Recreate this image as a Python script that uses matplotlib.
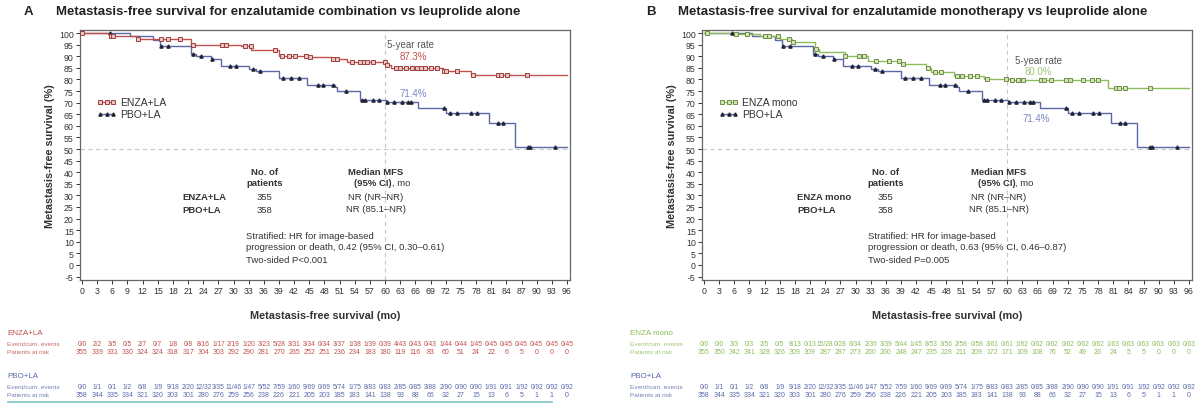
import numpy as np
import matplotlib
matplotlib.use("Agg")
import matplotlib.pyplot as plt
import matplotlib.transforms as mtransforms
from matplotlib.lines import Line2D

plt.rcParams['font.family'] = ['Liberation Sans', 'DejaVu Sans']
plt.rcParams['axes.unicode_minus'] = False

# =========================
# DATA
# =========================
months = list(range(0, 97, 3))

# Kaplan-Meier steps (month, survival %)
enza_la_t = [0, 5.5, 11, 21.5, 31.5, 33.5, 39, 44.5, 49.5, 52.5, 60.2, 61.2, 71.5, 77, 96]
enza_la_s = [100, 98.6, 97.5, 94.8, 94.2, 92.8, 90, 89.5, 88.8, 87.3, 86.2, 84.8, 83.8, 81.8, 81.8]
enza_la_cens = [0, 5.7, 6.1, 11, 15.6, 17.1, 19.4, 22, 27.7, 28.5, 32.3, 33.4, 38.3, 39.5, 41, 42.1,
                44.4, 45.2, 49.7, 50.5, 53.5, 55, 55.8, 56.5, 57.7, 60, 60.4, 62.2, 63, 64.1, 65.3,
                66.4, 67.1, 67.9, 69, 70.2, 71.7, 72, 74.3, 77.3, 82.3, 83, 84.2, 88]

pbo_la_t = [0, 9.5, 14, 15.5, 21.5, 22.5, 25.5, 27.5, 33, 34.5, 39, 44.5, 50, 50.5, 55, 60.2,
            66.5, 72, 80.5, 85.8, 96]
pbo_la_s = [100, 98.8, 97, 94.5, 91, 90, 88.8, 86, 84.6, 83.5, 80.8, 77.5, 76.6, 75.2, 71.3, 70.2,
            67.5, 65.6, 61, 50.8, 50.8]
pbo_la_cens = [5.6, 15.6, 17, 22, 23.5, 25.8, 29.2, 30.4, 33.8, 35.3, 39.8, 41.4, 42.9, 46.7, 47.8,
               49.7, 52.3, 55.4, 56.1, 57.7, 58.8, 60.3, 61.8, 63.3, 64.5, 65.2, 71.7, 72.8, 74.3,
               77, 78.1, 82.3, 83.4, 88.3, 88.7, 93.6]

enza_mono_t = [0, 6, 11, 15, 17.5, 22, 22.8, 28, 32.5, 39, 44, 45, 49.5, 55.5, 60.5, 80, 96]
enza_mono_s = [100, 99.5, 98.6, 97.5, 96, 93, 91.7, 90, 88, 86.5, 84.8, 83, 81.6, 80.2, 79.7, 76.3, 76.3]
enza_mono_cens = [0.6, 6.3, 8.6, 12, 12.8, 14.7, 16.9, 17.7, 22.2, 28, 30.6, 31.7, 34, 36.7, 38.6,
                  39.3, 44.3, 45.8, 46.9, 50, 51.1, 52.6, 54.1, 56, 59.8, 61, 62.1, 63.2, 66.7,
                  67.4, 68.6, 71.6, 72.4, 75, 76.9, 78, 81.5, 82.2, 83.4, 88.3]

# risk tables
enza_la_events = ["0/0", "2/2", "3/5", "0/5", "2/7", "0/7", "1/8", "0/8", "8/16", "1/17", "2/19",
                  "1/20", "3/23", "5/28", "3/31", "3/34", "0/34", "3/37", "1/38", "1/39", "0/39",
                  "4/43", "0/43", "0/43", "1/44", "0/44", "1/45", "0/45", "0/45", "0/45", "0/45",
                  "0/45", "0/45"]
enza_la_risk = [355, 339, 331, 330, 324, 324, 318, 317, 304, 303, 292, 290, 281, 270, 265, 252, 251,
                236, 234, 183, 180, 119, 116, 83, 60, 51, 24, 22, 6, 5, 0, 0, 0]

pbo_la_events = ["0/0", "1/1", "0/1", "1/2", "6/8", "1/9", "9/18", "2/20", "12/32", "3/35", "11/46",
                 "1/47", "5/52", "7/59", "1/60", "9/69", "0/69", "5/74", "1/75", "8/83", "0/83",
                 "2/85", "0/85", "3/88", "2/90", "0/90", "0/90", "1/91", "0/91", "1/92", "0/92",
                 "0/92", "0/92"]
pbo_la_risk = [358, 344, 335, 334, 321, 320, 303, 301, 280, 276, 259, 256, 238, 226, 221, 205, 203,
               185, 183, 141, 138, 93, 88, 66, 32, 27, 15, 13, 6, 5, 1, 1, 0]

enza_mono_events = ["0/0", "0/0", "3/3", "0/3", "2/5", "0/5", "8/13", "0/13", "15/28", "0/28",
                    "6/34", "2/36", "3/39", "5/44", "1/45", "8/53", "3/56", "2/58", "0/58", "3/61",
                    "0/61", "1/62", "0/62", "0/62", "0/62", "0/62", "0/62", "1/63", "0/63", "0/63",
                    "0/63", "0/63", "0/63"]
enza_mono_risk = [355, 350, 342, 341, 328, 326, 309, 309, 287, 287, 273, 260, 260, 248, 247, 235,
                  228, 211, 209, 172, 171, 109, 108, 76, 52, 49, 26, 24, 5, 5, 0, 0, 0]

# colours
RED = "#c0504d"
BLUE = "#5b6aa6"
GREEN = "#8cbd5a"
GREY = "#555555"
TXT = "#333333"
FS = 6.8


def km_at(t_steps, s_steps, t):
    idx = np.searchsorted(t_steps, t, side="right") - 1
    return np.asarray(s_steps)[idx]


def draw_panel(fig, rect, letter, title, arm_name, arm_t, arm_s, arm_cens, arm_col, arm_face,
               arm_edge, rate_txt, rate_xy, rate_col, pbo_xy, five_xy, table_x, hr_txt, p_txt,
               arm_events, arm_risk, label_x):
    ax = fig.add_axes(rect)

    # reference lines
    ax.axhline(50, color="#c8c8c8", lw=0.8, ls=(0, (4, 3)), zorder=1)
    ax.axvline(60, color="#c8c8c8", lw=0.8, ls=(0, (4, 3)), zorder=1)

    # curves
    ax.step(pbo_la_t, pbo_la_s, where="post", color=BLUE, lw=1.0, zorder=3)
    ax.step(arm_t, arm_s, where="post", color=arm_col, lw=1.0, zorder=4)

    ax.plot(pbo_la_cens, km_at(pbo_la_t, pbo_la_s, pbo_la_cens), ls="none", marker="^",
            ms=2.3, color="#222233", zorder=5)
    ax.plot(arm_cens, km_at(arm_t, arm_s, arm_cens), ls="none", marker="s", ms=2.8,
            mfc=arm_face, mec=arm_edge, mew=0.7, zorder=6)

    ax.set_xlim(-0.4, 96.6)
    ax.set_ylim(-6.4, 101.4)
    ax.set_xticks(months)
    ax.set_yticks(range(-5, 101, 5))
    ax.tick_params(labelsize=6.3, colors=TXT, length=3, width=0.7, pad=1.5)
    for sp in ax.spines.values():
        sp.set_color("#666666")
        sp.set_linewidth(0.9)

    ax.set_ylabel("Metastasis-free survival (%)", fontsize=7.8, fontweight="bold", labelpad=3,
                  color=TXT)
    ax.set_xlabel("Metastasis-free survival (mo)", fontsize=7.8, fontweight="bold", labelpad=11,
                  color=TXT)

    # title
    ax.text(-10.5, 109.6, letter, fontsize=9.5, fontweight="bold", va="center", ha="center",
            color="#222222")
    ax.text(-5.2, 109.6, title, fontsize=9.5, fontweight="bold", va="center", ha="left",
            color="#222222")

    # legend
    handles = [Line2D([0], [0], color=arm_col, lw=1, marker="s", ms=2.8, mfc=arm_face,
                      mec=arm_edge, mew=0.7),
               Line2D([0], [0], color=BLUE, lw=1, marker="^", ms=2.3, mfc="#222233",
                      mec="#222233")]
    ax.legend(handles, [arm_name, "PBO+LA"], loc="center left", bbox_to_anchor=(0.035, 0.686),
              frameon=False, fontsize=7.5, numpoints=3, handlelength=1.8, handletextpad=0.4,
              borderpad=0, borderaxespad=0, labelspacing=0.2, labelcolor=TXT)

    # 5-year rates
    ax.text(five_xy[0], five_xy[1], "5-year rate", fontsize=7, color=GREY, va="center", ha="left")
    ax.text(rate_xy[0], rate_xy[1], rate_txt, fontsize=7, color=rate_col, va="center", ha="center")
    ax.text(pbo_xy[0], pbo_xy[1], "71.4%", fontsize=7, color="#7a88c4", va="center", ha="center")

    # inner summary table
    tx, nx, mx, split = table_x
    ax.text(nx, 40.4, "No. of", fontsize=FS, fontweight="bold", ha="center", va="center", color=TXT)
    ax.text(nx, 35.6, "patients", fontsize=FS, fontweight="bold", ha="center", va="center",
            color=TXT)
    ax.text(mx, 40.4, "Median MFS", fontsize=FS, fontweight="bold", ha="center", va="center",
            color=TXT)
    ax.text(split, 35.6, "(95% CI)", fontsize=FS, fontweight="bold", ha="right", va="center",
            color=TXT)
    ax.text(split, 35.6, ", mo", fontsize=FS, ha="left", va="center", color=TXT)
    ax.text(tx, 29.6, arm_name, fontsize=FS, fontweight="bold", ha="left", va="center", color=TXT)
    ax.text(tx, 23.7, "PBO+LA", fontsize=FS, fontweight="bold", ha="left", va="center", color=TXT)
    ax.text(nx, 29.6, "355", fontsize=FS, ha="center", va="center", color=TXT)
    ax.text(nx, 23.7, "358", fontsize=FS, ha="center", va="center", color=TXT)
    ax.text(mx, 29.6, "NR (NR–NR)", fontsize=FS, ha="center", va="center", color=TXT)
    ax.text(mx, 24.5, "NR (85.1–NR)", fontsize=FS, ha="center", va="center", color=TXT)
    ax.text(32.5, 12.9, "Stratified: HR for image-based", fontsize=FS, ha="left", va="center",
            color=TXT)
    ax.text(32.5, 7.8, hr_txt, fontsize=FS, ha="left", va="center", color=TXT)
    ax.text(32.5, 2.2, p_txt, fontsize=FS, ha="left", va="center", color=TXT)

    # number-at-risk table
    tr = mtransforms.blended_transform_factory(ax.transData, fig.transFigure)
    rows = [(arm_name, arm_events, arm_risk, arm_col, 334, 345, 353),
            ("PBO+LA", pbo_la_events, pbo_la_risk, BLUE, 377, 388, 396)]
    for name, ev, rk, col, yh, ye, yr in rows:
        fig.text(label_x, 1 - yh / 406, name, fontsize=5.8, color=col, va="center", ha="left")
        fig.text(label_x, 1 - ye / 406, "Event/cum. events", fontsize=4.6, color=col,
                 alpha=0.85, va="center", ha="left")
        fig.text(label_x, 1 - yr / 406, "Patients at risk", fontsize=4.6, color=col,
                 alpha=0.85, va="center", ha="left")
        for m, e, r in zip(months, ev, rk):
            ax.text(m, 1 - ye / 406, e, transform=tr, fontsize=4.8, color=col, ha="center",
                    va="center")
            ax.text(m, 1 - yr / 406, str(r), transform=tr, fontsize=5, color=col, ha="center",
                    va="center")
    return ax


fig = plt.figure(figsize=(12, 4.06), dpi=100)

draw_panel(fig, [80 / 1200, 1 - 280.8 / 406, 490 / 1200, 250 / 406], "A",
           "Metastasis-free survival for enzalutamide combination vs leuprolide alone",
           "ENZA+LA", enza_la_t, enza_la_s, enza_la_cens, RED, "#e9c4c2", "#9c3f3c",
           "87.3%", (65.5, 90.2), RED, (65.5, 74.1), (60.4, 95.3), (19.8, 36.1, 58.2, 61.3),
           "progression or death, 0.42 (95% CI, 0.30–0.61)", "Two-sided P<0.001",
           enza_la_events, enza_la_risk, 7 / 1200)

draw_panel(fig, [702 / 1200, 1 - 280.8 / 406, 490 / 1200, 250 / 406], "B",
           "Metastasis-free survival for enzalutamide monotherapy vs leuprolide alone",
           "ENZA mono", enza_mono_t, enza_mono_s, enza_mono_cens, GREEN, "#d2e3b6", "#6f8f45",
           "80.0%", (66.1, 83.8), "#a2c47a", (65.8, 63.4), (61.6, 88.4), (18.4, 36.0, 58.4, 61.6),
           "progression or death, 0.63 (95% CI, 0.46–0.87)", "Two-sided P=0.005",
           enza_mono_events, enza_mono_risk, 630 / 1200)

# thin teal rule under the first risk table
fig.add_artist(Line2D([8 / 1200, 552 / 1200], [1 - 403 / 406] * 2, color="#7fc4c4", lw=1.2))

fig.savefig("out.png", dpi=100, facecolor="white")
